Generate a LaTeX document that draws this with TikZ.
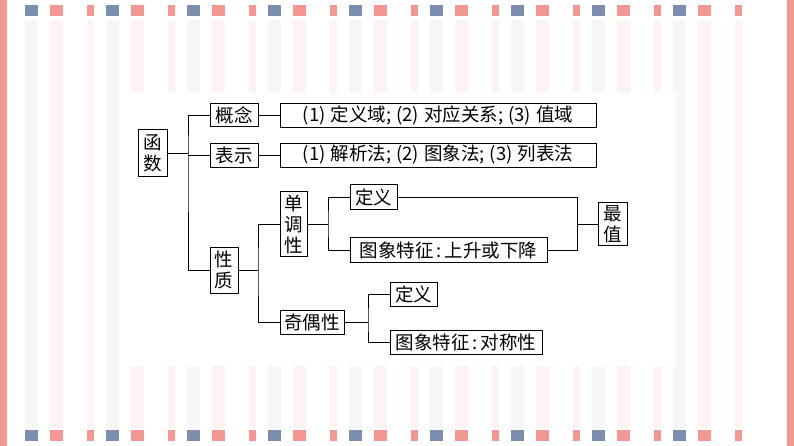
\documentclass[tikz,border=0pt]{standalone}
\usepackage{fontspec}
\setmainfont{Liberation Serif}
\newfontfamily\cjk{Noto Sans CJK SC}[Scale=1]
\definecolor{pk}{RGB}{244,150,146}
\definecolor{bl}{RGB}{124,142,176}
\definecolor{pkl}{RGB}{254,242,242}
\definecolor{gl}{RGB}{244,246,248}
\newcommand{\gp}{\hspace{5pt}}
\begin{document}
\begin{tikzpicture}[x=1pt,y=-1pt,
 bx/.style={draw,line width=0.7pt,inner sep=1pt,font=\cjk\fontsize{18.5}{20}\selectfont,anchor=center},
 vb/.style={bx,align=center,font=\cjk\fontsize{18.5}{21}\selectfont},
 ln/.style={line width=0.6pt}]
\useasboundingbox (0,0) rectangle (794,446);
\fill[white] (0,0) rectangle (794,446);
\foreach \o in {25,106,187,268,349,430,511,592,673}{
 \fill[gl] (\o,20) rectangle ++(13,408);
 \fill[pkl] (\o+25,20) rectangle ++(13,408);
 \fill[pkl] (\o+62,20) rectangle ++(7,408);
 \fill[bl] (\o,5) rectangle ++(13,11);
 \fill[pk] (\o+25,5) rectangle ++(13,11);
 \fill[pk] (\o+62,5) rectangle ++(7,11);
 \fill[bl] (\o,430) rectangle ++(13,11);
 \fill[pk] (\o+25,430) rectangle ++(13,11);
 \fill[pk] (\o+62,430) rectangle ++(7,11);
}
\fill[pk] (0,0) rectangle (7,446);
\fill[pk] (787,0) rectangle (794,446);
\fill[white] (122,93) rectangle (676,366);

\node[vb,minimum width=29pt,minimum height=47pt] (hs) at (153,153) {函\\数};
\node[bx,minimum width=48pt,minimum height=23pt] (gn) at (234,115) {概念};
\node[bx,minimum width=316pt,minimum height=24pt] (g1) at (438,115) {(1)\gp 定义域;\gp(2)\gp 对应关系;\gp(3)\gp 值域};
\node[bx,minimum width=48pt,minimum height=24pt] (bs) at (234,155) {表示};
\node[bx,minimum width=316pt,minimum height=24pt] (b1) at (438,155) {(1)\gp 解析法;\gp(2)\gp 图象法;\gp(3)\gp 列表法};
\node[vb,minimum width=28pt,minimum height=46pt] (xz) at (224,270) {性\\质};
\node[vb,minimum width=27pt,minimum height=65pt] (dd) at (293.5,224) {单\\调\\性};
\node[bx,minimum width=64pt,minimum height=24pt] (jo) at (312,322) {奇偶性};
\node[bx,minimum width=47pt,minimum height=25pt] (dy1) at (373.5,197) {定义};
\node[bx,minimum width=197pt,minimum height=25pt] (tx1) at (448.5,250) {图象特征\,:\,上升或下降};
\node[vb,minimum width=29pt,minimum height=43pt] (zz) at (612.5,224) {最\\值};
\node[bx,minimum width=47pt,minimum height=24pt] (dy2) at (413.5,294) {定义};
\node[bx,minimum width=152pt,minimum height=24pt] (tx2) at (466,342) {图象特征\,:\,对称性};

\draw[ln] (hs.east) -- (188,153);
\draw[ln] (gn.west) -| (188,155) |- (xz.west);
\draw[ln] (188,155) -- (bs.west);
\draw[ln] (gn.east) -- (g1.west);
\draw[ln] (bs.east) -- (b1.west);
\draw[ln] (xz.east) -- (258,270);
\draw[ln] (dd.west) -| (258,270) |- (jo.west);
\draw[ln] (dd.east) -- (328,224);
\draw[ln] (dy1.west) -| (328,224) |- (tx1.west);
\draw[ln] (dy1.east) -| (577,224) |- (tx1.east);
\draw[ln] (577,224) -- (zz.west);
\draw[ln] (jo.east) -- (368,322);
\draw[ln] (dy2.west) -| (368,322) |- (tx2.west);
\end{tikzpicture}
\end{document}
